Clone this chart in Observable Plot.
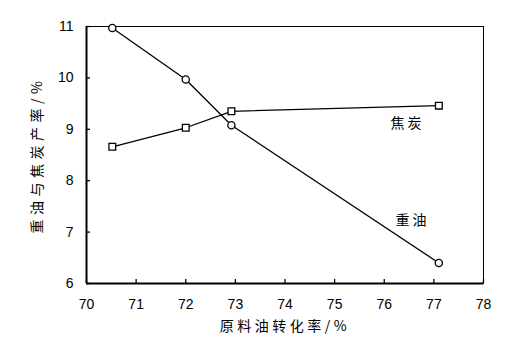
<!DOCTYPE html>
<html><head><meta charset="utf-8">
<script src="https://cdn.jsdelivr.net/npm/d3@7"></script>
<script src="https://cdn.jsdelivr.net/npm/@observablehq/plot@0.6"></script>
<style>
body{margin:0;background:#fff;}
svg{font-family:"Liberation Sans",Arial,sans-serif;}
.xlab text{letter-spacing:3.5px;}
.ylab text{letter-spacing:4.5px;}
.slab text{letter-spacing:3px;}
</style></head><body><div id="c"></div>
<script>
const conversion = [70.52, 72.0, 72.92, 77.1];
const heavyOil = [10.97, 9.97, 9.08, 6.40];
const coke = [8.66, 9.03, 9.35, 9.46];
const xTicks = [70, 71, 72, 73, 74, 75, 76, 77, 78];
const yTicks = [6, 7, 8, 9, 10, 11];
const seriesLabels = [
  {name: "焦炭", x: 76.47, y: 9.11},
  {name: "重油", x: 76.57, y: 7.22}
];
const xLabel = "原料油转化率/%";
const yLabel = "重油与焦炭产率/%";

const oil = conversion.map((x, i) => ({x, y: heavyOil[i]}));
const ck = conversion.map((x, i) => ({x, y: coke[i]}));
const cjk = "'Noto Sans CJK SC', sans-serif";

const chart = Plot.plot({
  width: 513, height: 358,
  marginLeft: 86, marginRight: 30, marginTop: 26, marginBottom: 75,
  x: {domain: [70, 78]},
  y: {domain: [6, 11]},
  style: {fontSize: "14px", color: "#000"},
  marks: [
    Plot.frame({stroke: "#000", strokeWidth: 1}),
    Plot.axisX(xTicks, {tickSize: 4, dy: -4, text: null, label: null, strokeWidth: 1.3}),
    Plot.axisX(xTicks, {tickSize: 0, tickPadding: 16, label: null, tickFormat: "d", fontSize: 14}),
    Plot.axisY(yTicks, {anchor: "left", tickSize: 4, dx: 4, text: null, label: null, strokeWidth: 1.3}),
    Plot.axisY(yTicks, {anchor: "left", tickSize: 0, tickPadding: 13, label: null, tickFormat: "d", fontSize: 14}),
    Plot.ruleX([70], {strokeWidth: 2}),
    Plot.ruleY([6], {strokeWidth: 2}),
    Plot.line(oil, {x: "x", y: "y", stroke: "#000", strokeWidth: 1.3}),
    Plot.line(ck, {x: "x", y: "y", stroke: "#000", strokeWidth: 1.3}),
    Plot.dot(oil, {x: "x", y: "y", r: 3.6, fill: "#fff", stroke: "#000", strokeWidth: 1.3}),
    Plot.dot(ck, {x: "x", y: "y", r: 3.8, symbol: "square", fill: "#fff", stroke: "#000", strokeWidth: 1.3}),
    Plot.text(seriesLabels, {x: "x", y: "y", text: "name", fontSize: 14, fontFamily: cjk, fill: "#000", className: "slab"}),
    Plot.text([xLabel], {frameAnchor: "bottom", dy: 47, text: d => d, fontSize: 14, fontFamily: cjk, fill: "#000", textAnchor: "middle", className: "xlab"}),
    Plot.text([yLabel], {frameAnchor: "left", dx: -49, rotate: -90, text: d => d, fontSize: 14, fontFamily: cjk, fill: "#000", textAnchor: "middle", className: "ylab"})
  ]
});
document.getElementById("c").appendChild(chart);
</script></body></html>
